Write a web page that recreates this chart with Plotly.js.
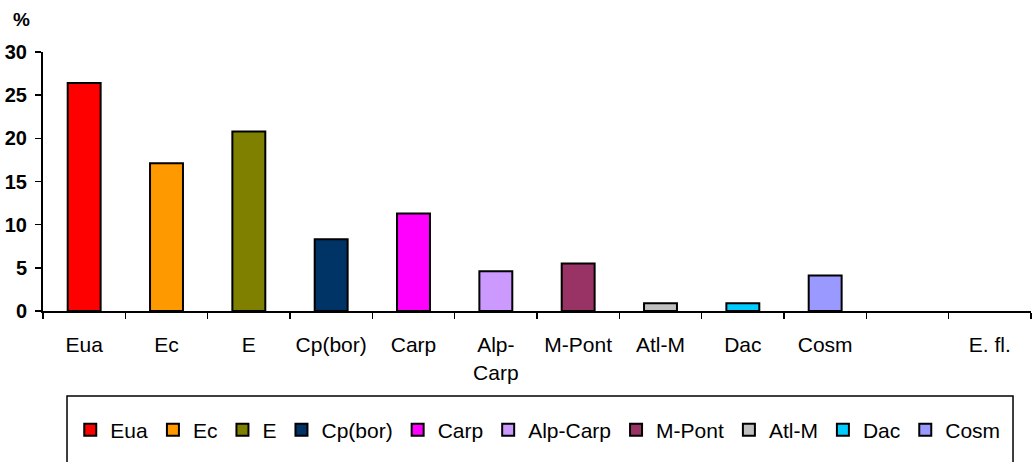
<!DOCTYPE html>
<html>
<head>
<meta charset="utf-8">
<script src="https://cdn.plot.ly/plotly-3.0.1.min.js"></script>
<style>
  html, body { margin: 0; padding: 0; background: #ffffff; }
  #chart { width: 1033px; height: 462px; }
</style>
</head>
<body>
<div id="chart"></div>
<script>
// Category slots along the x axis (one empty slot before "E. fl.")
const categories = ['Eua', 'Ec', 'E', 'Cp(bor)', 'Carp', 'Alp-<br>Carp', 'M-Pont', 'Atl-M', 'Dac', 'Cosm', ' ', 'E. fl.'];

// Floristic elements shown as bars, with their share in %
const seriesNames = ['Eua', 'Ec', 'E', 'Cp(bor)', 'Carp', 'Alp-Carp', 'M-Pont', 'Atl-M', 'Dac', 'Cosm'];
const seriesValues = [26.4, 17.1, 20.8, 8.3, 11.3, 4.6, 5.5, 0.9, 0.9, 4.1];
const seriesColors = ['#FF0000', '#FF9900', '#808000', '#003366', '#FF00FF', '#CC99FF', '#993366', '#C0C0C0', '#00CCFF', '#9999FF'];

const yTicks = [0, 5, 10, 15, 20, 25, 30];

const FONT = 'Arial, "Liberation Sans", sans-serif';

const traces = [];
// keeps every category slot on the axis, including the empty ones
traces.push({
  type: 'bar',
  x: categories,
  y: categories.map(() => null),
  showlegend: false,
  hoverinfo: 'skip',
  marker: { color: 'rgba(0,0,0,0)' }
});
seriesNames.forEach((name, i) => {
  traces.push({
    type: 'bar',
    name: name,
    x: [categories[i]],
    y: [seriesValues[i]],
    width: 0.4,
    marker: { color: seriesColors[i], line: { color: '#000000', width: 2 } }
  });
});

const layout = {
  width: 1033,
  height: 462,
  margin: { l: 43, r: 2, t: 52, b: 151, pad: 0 },
  paper_bgcolor: '#ffffff',
  plot_bgcolor: '#ffffff',
  barmode: 'overlay',
  font: { family: FONT, color: '#000000' },
  xaxis: {
    type: 'category',
    categoryorder: 'array',
    categoryarray: categories,
    range: [-0.5, 11.5],
    tickson: 'boundaries',
    ticks: 'outside',
    ticklen: 6,
    tickwidth: 1.5,
    tickcolor: '#000000',
    showline: true,
    linecolor: '#000000',
    linewidth: 2,
    showgrid: false,
    zeroline: false,
    ticklabelstandoff: 14,
    tickfont: { family: FONT, size: 21, color: '#000000' },
    fixedrange: true
  },
  yaxis: {
    range: [0, 30],
    tickmode: 'array',
    tickvals: yTicks,
    ticktext: yTicks.map(String),
    ticks: 'outside',
    ticklen: 6,
    tickwidth: 1.5,
    tickcolor: '#000000',
    showline: true,
    linecolor: '#000000',
    linewidth: 2,
    showgrid: false,
    zeroline: false,
    ticklabelstandoff: 4,
    tickfont: { family: FONT, size: 20, color: '#000000', weight: 'bold' },
    fixedrange: true
  },
  showlegend: true,
  legend: {
    orientation: 'h',
    xref: 'container',
    yref: 'container',
    x: 0.068,
    xanchor: 'left',
    y: 0.069,
    yanchor: 'middle',
    font: { family: FONT, size: 21, color: '#000000' },
    bgcolor: 'rgba(0,0,0,0)',
    borderwidth: 0,
    traceorder: 'normal'
  },
  annotations: [{
    text: '%',
    xref: 'paper',
    yref: 'paper',
    x: -0.0218,
    y: 1.1236,
    xanchor: 'center',
    yanchor: 'middle',
    showarrow: false,
    font: { family: FONT, size: 19, color: '#000000', weight: 'bold' }
  }],
  shapes: [{
    type: 'rect',
    xref: 'paper',
    yref: 'paper',
    x0: 0.0243,
    x1: 0.9818,
    y0: -0.328,
    y1: -0.70,
    line: { color: '#000000', width: 1.5 },
    fillcolor: 'rgba(0,0,0,0)',
    layer: 'above'
  }]
};

Plotly.newPlot('chart', traces, layout, { displayModeBar: false, staticPlot: true });
</script>
</body>
</html>
